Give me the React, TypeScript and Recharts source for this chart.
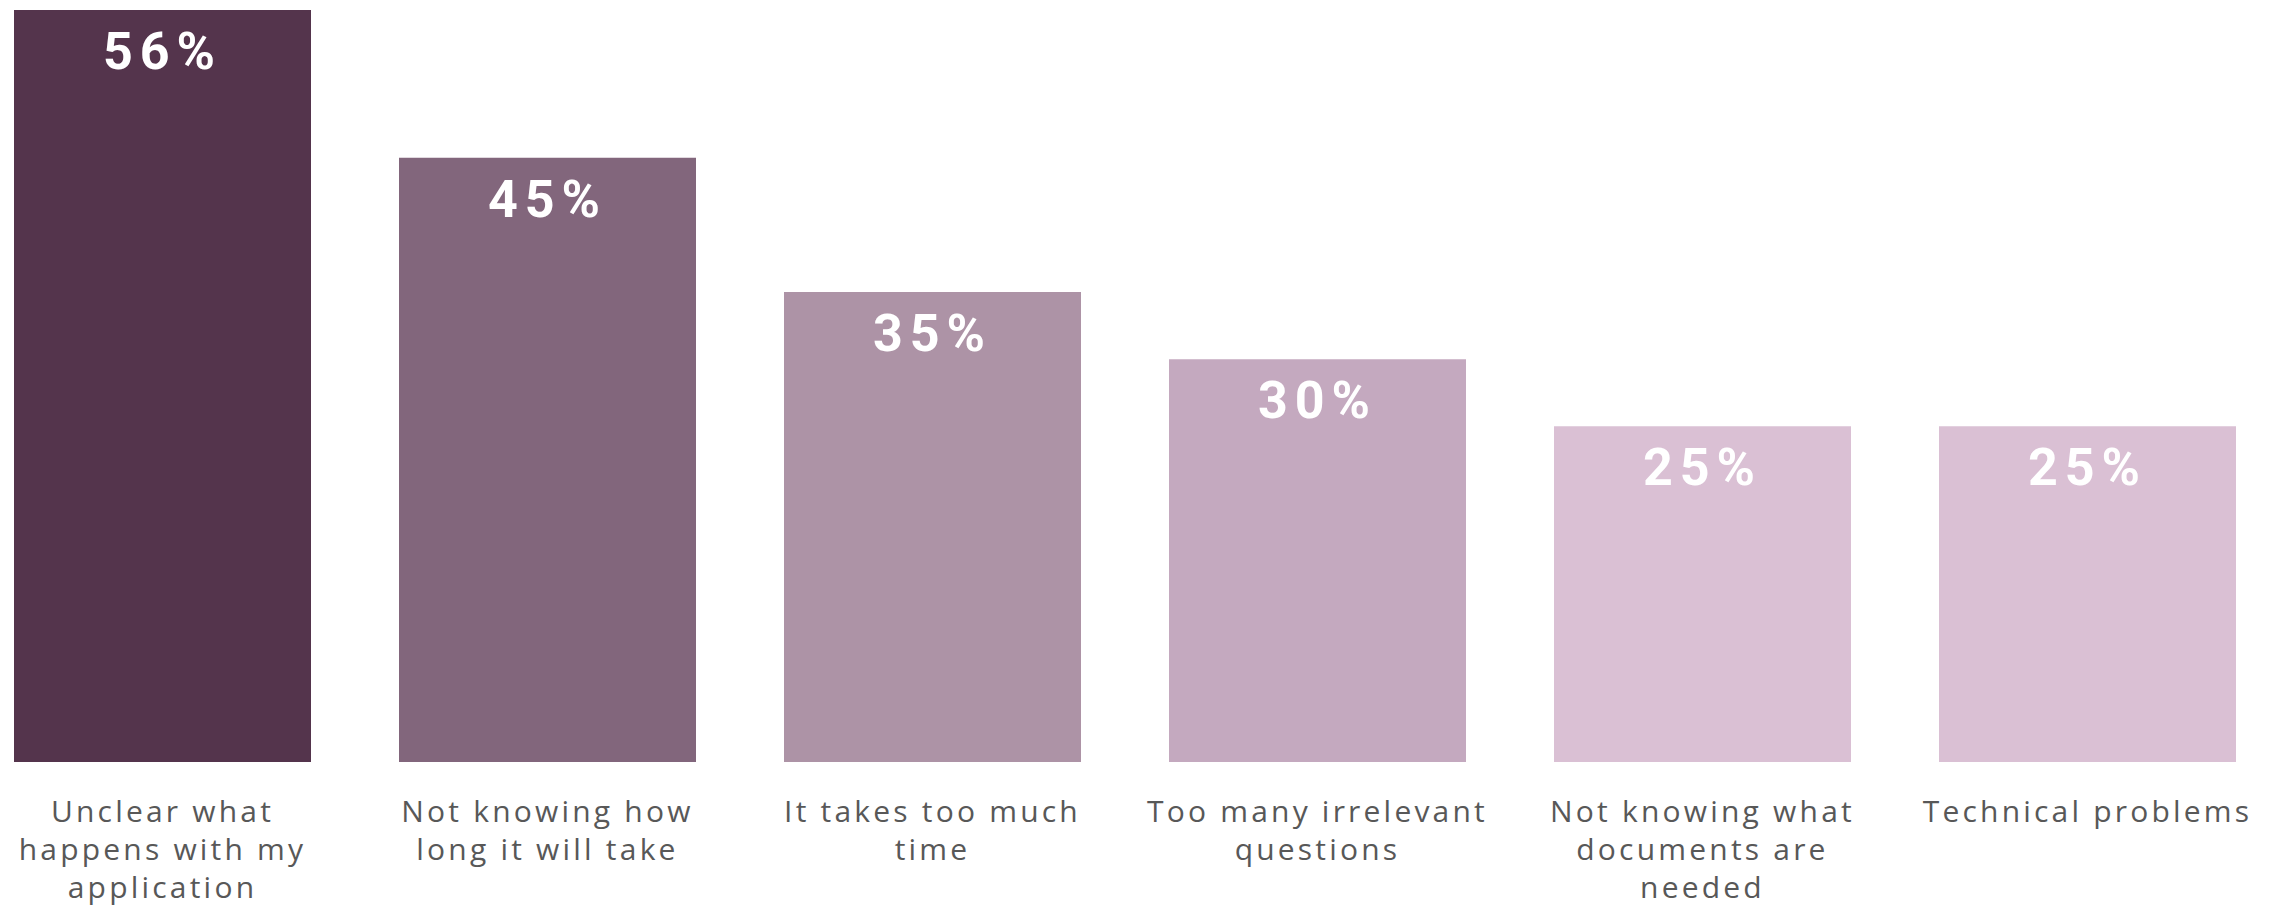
import { BarChart, Bar, XAxis, YAxis, LabelList, Cell } from 'recharts'

const CATEGORIES = [
  'Unclear what\nhappens with my\napplication',
  'Not knowing how\nlong it will take',
  'It takes too much\ntime',
  'Too many irrelevant\nquestions',
  'Not knowing what\ndocuments are\nneeded',
  'Technical problems',
]
const SHARES = [56, 45, 35, 30, 25, 25]
const COLORS = ['#54344c', '#82667c', '#ad93a6', '#c4a9bf', '#dac0d4', '#dac0d4']

const data = CATEGORIES.map((name, i) => ({ name, value: SHARES[i] }))

function WrappedTick({ x, y, payload }: any) {
  const lines = String(payload.value).split('\n')
  return (
    <text
      x={x}
      y={y}
      textAnchor="middle"
      fill="#585858"
      fontFamily="'Open Sans', sans-serif"
      fontSize={30}
      letterSpacing={3.2}
    >
      {lines.map((line, i) => (
        <tspan key={i} x={x} dy={i === 0 ? 52 : 38}>
          {line}
        </tspan>
      ))}
    </text>
  )
}

export default function App() {
  return (
    <div style={{ position: 'absolute', left: -30, top: 0 }}>
      <BarChart
        width={2310}
        height={907}
        data={data}
        margin={{ top: 10, right: 0, bottom: 0, left: 0 }}
      >
        <XAxis
          dataKey="name"
          height={145}
          axisLine={false}
          tickLine={false}
          interval={0}
          tick={<WrappedTick />}
        />
        <YAxis hide domain={[0, 56]} />
        <Bar dataKey="value" barSize={297} isAnimationActive={false}>
          {data.map((_, i) => (
            <Cell key={i} fill={COLORS[i]} />
          ))}
          <LabelList
            dataKey="value"
            position="insideTop"
            offset={22}
            formatter={(v: any) => `${v}%`}
            fill="#ffffff"
            fontFamily="Roboto, sans-serif"
            fontWeight={700}
            fontSize={52}
            letterSpacing={7}
          />
        </Bar>
      </BarChart>
    </div>
  )
}
